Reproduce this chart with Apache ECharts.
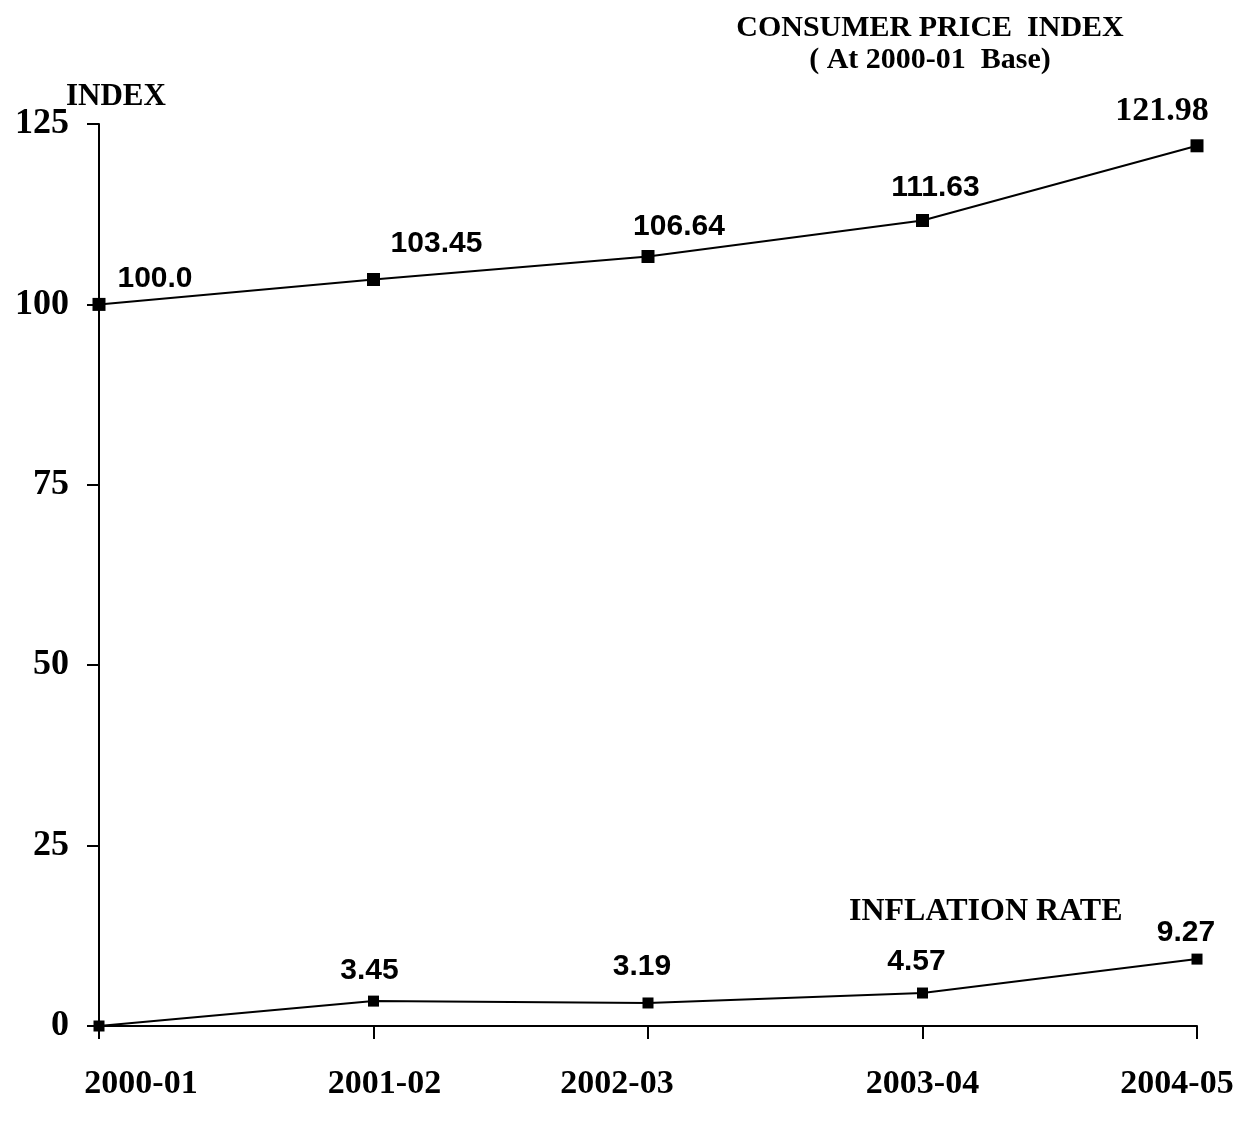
<!DOCTYPE html>
<html><head><meta charset="utf-8">
<script src="https://cdn.jsdelivr.net/npm/echarts@6/dist/echarts.min.js"></script>
<style>html,body{margin:0;padding:0;background:#fff}#c{width:1233px;height:1122px}</style>
</head><body><div id="c"></div>
<script>
const years = ['2000-01','2001-02','2002-03','2003-04','2004-05'];
const cpiValues = [100.0, 103.45, 106.64, 111.63, 121.98];
const cpiLabels = ['100.0','103.45','106.64','111.63','121.98'];
const inflationValues = [0, 3.45, 3.19, 4.57, 9.27];
const inflationLabels = ['', '3.45', '3.19', '4.57', '9.27'];
const yTicks = [0, 25, 50, 75, 100, 125];

const cpiOffsets = [[56,-26],[63,-36],[31,-30],[13,-33],[-35,-35]];
const infOffsets = [[0,0],[-4,-30],[-6,-36],[-6,-31],[-11,-26]];
const xLabelShift = [42, 11, -31, 0, -20];

const serif = '"Liberation Serif","Times New Roman",serif';
const sans = '"Liberation Sans",Arial,sans-serif';

const rich = {};
xLabelShift.forEach((s,i)=>{
  rich['l'+i] = {fontFamily:serif,fontWeight:'bold',fontSize:34,color:'#000',
    padding: s>=0 ? [0,0,0,2*s] : [0,-2*s,0,0]};
});

const chart = echarts.init(document.getElementById('c'), null, {renderer:'canvas'});
chart.setOption({
  backgroundColor:'#fff',
  animation:false,
  grid:{left:99,right:36,top:124,bottom:96,containLabel:false,outerBoundsMode:'none'},
  xAxis:{type:'category',data:years,boundaryGap:false,
    axisLine:{lineStyle:{color:'#000',width:2}},
    axisTick:{show:true,alignWithLabel:true,length:13,lineStyle:{color:'#000',width:2}},
    axisLabel:{color:'#000',fontFamily:serif,fontWeight:'bold',fontSize:34,margin:41,
      showMinLabel:true,showMaxLabel:true,interval:0,hideOverlap:false,
      formatter:(v,i)=>'{l'+i+'|'+v+'}',rich:rich}
  },
  yAxis:{type:'value',min:0,max:125,interval:25,
    axisLine:{show:true,lineStyle:{color:'#000',width:2}},
    axisTick:{show:true,length:12,lineStyle:{color:'#000',width:2}},
    splitLine:{show:false},
    axisLabel:{color:'#000',fontFamily:serif,fontWeight:'bold',fontSize:36,margin:30,
      formatter:v=>yTicks.includes(v)?String(v):''}
  },
  graphic:[
    {type:'text',style:{text:'CONSUMER PRICE  INDEX',font:'bold 30px '+serif,fill:'#000',textAlign:'center'},x:930,y:13},
    {type:'text',style:{text:'( At 2000-01  Base)',font:'bold 30px '+serif,fill:'#000',textAlign:'center'},x:930,y:45},
    {type:'text',style:{text:'INDEX',font:'bold 31px '+serif,fill:'#000',textAlign:'left'},x:66,y:81},
    {type:'text',style:{text:'INFLATION RATE',font:'bold 32px '+serif,fill:'#000',textAlign:'left'},x:849,y:896}
  ],
  series:[
    {type:'line',data:cpiValues.map((v,i)=>({value:v,label:{offset:cpiOffsets[i],
        fontFamily: i===4?serif:sans, fontSize: i===4?34:30}})),
      symbol:'rect',symbolSize:13,
      itemStyle:{color:'#000'},lineStyle:{color:'#000',width:2},
      label:{show:true,position:'inside',color:'#000',fontWeight:'bold',
        formatter:p=>cpiLabels[p.dataIndex]}
    },
    {type:'line',data:inflationValues.map((v,i)=>({value:v,label:{offset:infOffsets[i]}})),
      symbol:'rect',symbolSize:11,
      itemStyle:{color:'#000'},lineStyle:{color:'#000',width:2},
      label:{show:true,position:'inside',color:'#000',fontWeight:'bold',fontFamily:sans,fontSize:30,
        formatter:p=>inflationLabels[p.dataIndex]}
    }
  ]
});
</script></body></html>
